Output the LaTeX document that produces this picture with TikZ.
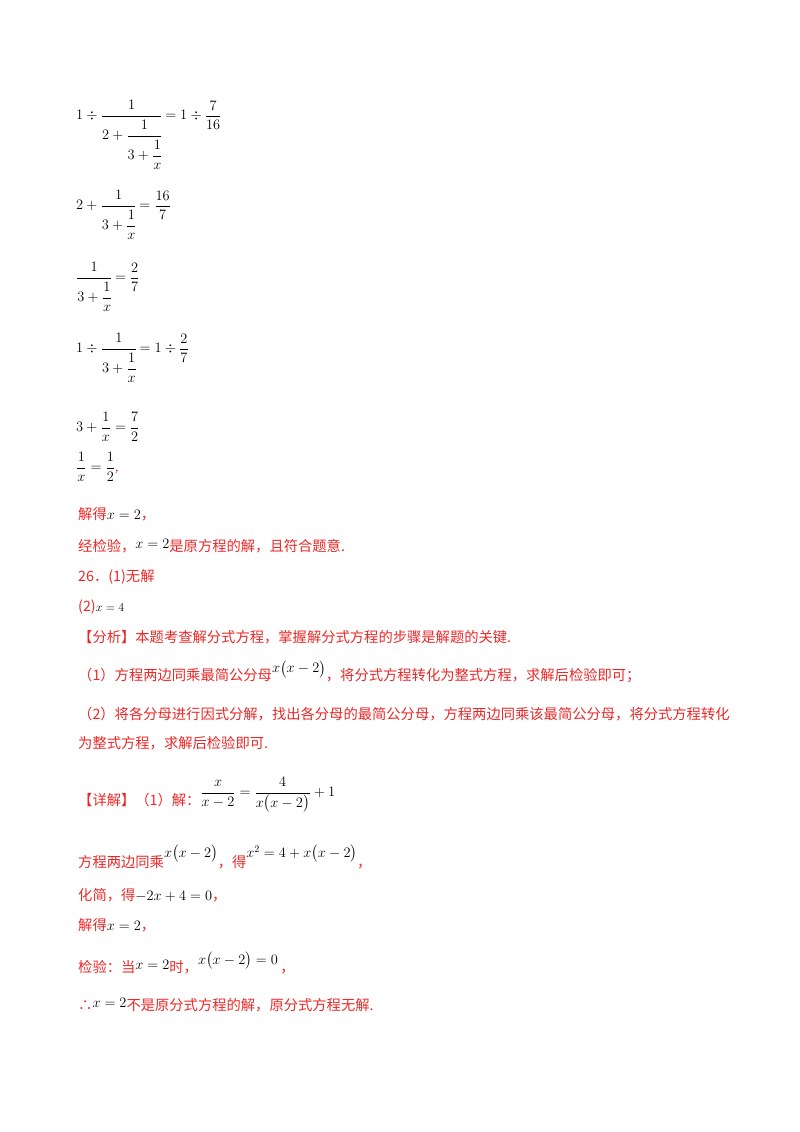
\documentclass[tikz,border=0pt]{standalone}
\usepackage{amsmath}
\usepackage{fontspec}
\setmainfont{Liberation Serif}
\newfontfamily\cjk{Noto Sans CJK SC}
\definecolor{ansred}{RGB}{235,40,40}
\newcommand{\mf}[2]{\dfrac{#1}{#2}}
\newcommand{\bk}[1]{\textcolor{black}{\rmfamily\fontsize{14}{16}\selectfont$#1$}}
\begin{document}
\begin{tikzpicture}[x=1pt,y=-1pt,
  mth/.style={anchor=west,inner sep=0pt,font=\fontsize{13.5}{16}\selectfont},
  zh/.style={anchor=west,inner sep=0pt,text=ansred,font=\fontsize{14.3}{17}\selectfont\cjk}]
\useasboundingbox (0,0) rectangle (800,1132);
\node[mth] (e1) at (76,134) {$1\div\cfrac{1}{2+\cfrac{1}{3+\cfrac{1}{x}}}=1\div\mf{7}{16}$};
\node[mth] (e2) at (76,214) {$2+\cfrac{1}{3+\cfrac{1}{x}}=\mf{16}{7}$};
\node[mth] (e3) at (76,286) {$\cfrac{1}{3+\cfrac{1}{x}}=\mf{2}{7}$};
\node[mth] (e4) at (76,357) {$1\div\cfrac{1}{3+\cfrac{1}{x}}=1\div\mf{2}{7}$};
\node[mth] (e5) at (76,427) {$3+\mf{1}{x}=\mf{7}{2}$};
\node[mth] (e6) at (76,467) {$\mf{1}{x}=\mf{1}{2}$\textcolor{ansred}{,}};
\node[zh] (l1) at (78,514) {解得\bk{x=2}，};
\node[zh] (l2) at (78,546) {经检验，\raisebox{3pt}{\bk{x=2}}是原方程的解，且符合题意.};
\node[zh] (l3) at (78,577) {26．(1)无解};
\node[zh] (l4) at (78,607) {(2)\textcolor{black}{\rmfamily\fontsize{12}{14}\selectfont$x=4$}};
\node[zh] (l5) at (78,637) {【分析】本题考查解分式方程，掌握解分式方程的步骤是解题的关键.};
\node[zh] (l6) at (78,672) {（1）方程两边同乘最简公分母\raisebox{8pt}{\bk{x\bigl(x-2\bigr)}}，将分式方程转化为整式方程，求解后检验即可；};
\node[zh] (l7) at (78,714) {（2）将各分母进行因式分解，找出各分母的最简公分母，方程两边同乘该最简公分母，将分式方程转化};
\node[zh] (l8) at (78,743) {为整式方程，求解后检验即可.};
\node[zh] (l9) at (78,795) {【详解】（1）解：\raisebox{9pt}{\textcolor{black}{\rmfamily\fontsize{15}{17}\selectfont$\mf{x}{x-2}=\mf{4}{x\bigl(x-2\bigr)}+1$}}};
\node[zh] (l10) at (78,857) {方程两边同乘\raisebox{10pt}{\bk{x\bigl(x-2\bigr)}}，得\raisebox{10pt}{\bk{x^2=4+x\bigl(x-2\bigr)}}，};
\node[zh] (l11) at (78,895) {化简，得\bk{-2x+4=0}，};
\node[zh] (l12) at (78,925) {解得\bk{x=2}，};
\node[zh] (l13) at (78,963) {检验：当\raisebox{3pt}{\bk{x=2}}时，\raisebox{8pt}{\bk{x\bigl(x-2\bigr)=0}}\,，};
\node[zh] (l14) at (78,1005) {∴\raisebox{3pt}{\bk{x=2}}不是原分式方程的解，原分式方程无解.};
\end{tikzpicture}
\end{document}
